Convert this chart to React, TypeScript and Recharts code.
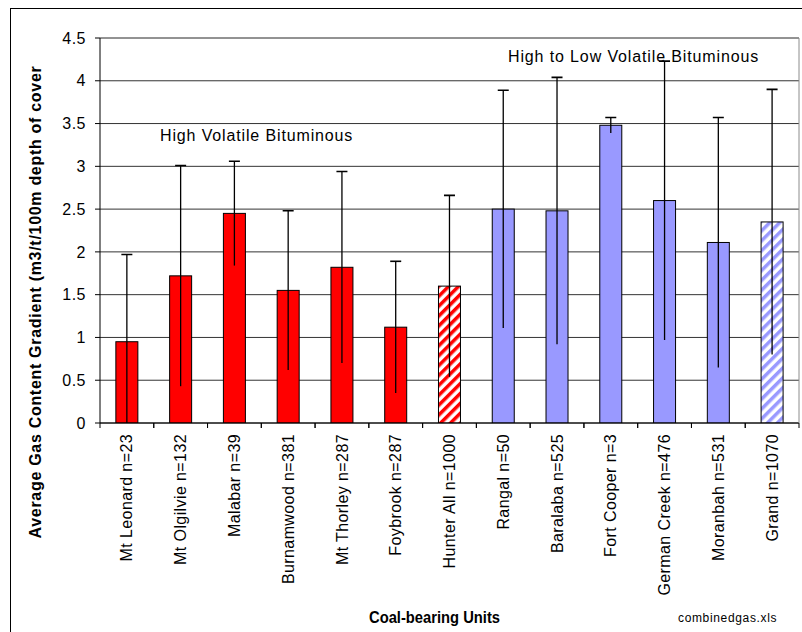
import { BarChart, Bar, XAxis, YAxis, CartesianGrid, ReferenceLine } from "recharts";

// coal-bearing units (label includes sample count)
const units = [
  "Mt Leonard n=23",
  "Mt Olgilvie n=132",
  "Malabar n=39",
  "Burnamwood n=381",
  "Mt Thorley n=287",
  "Foybrook n=287",
  "Hunter All n=1000",
  "Rangal n=50",
  "Baralaba n=525",
  "Fort Cooper n=3",
  "German Creek n=476",
  "Moranbah n=531",
  "Grand n=1070",
];

// average gas content gradient, m3/t per 100m of cover
const gradient = [0.95, 1.72, 2.45, 1.55, 1.82, 1.12, 1.6, 2.5, 2.48, 3.48, 2.6, 2.11, 2.35];

// +/- spread shown by the whiskers
const spread = [1.02, 1.29, 0.61, 0.93, 1.12, 0.77, 1.06, 1.39, 1.56, 0.09, 1.63, 1.46, 1.55];

const basin = [
  "Hunter", "Hunter", "Hunter", "Hunter", "Hunter", "Hunter", "Hunter",
  "Bowen", "Bowen", "Bowen", "Bowen", "Bowen", "Bowen",
];

// combined (all units) bars are hatched
const pooled = [false, false, false, false, false, false, true, false, false, false, false, false, true];

const yTicks = [0, 0.5, 1, 1.5, 2, 2.5, 3, 3.5, 4, 4.5];

const rows = units.map((unit, i) => ({
  unit,
  gradient: gradient[i],
  spread: spread[i],
  basin: basin[i],
  pooled: pooled[i],
}));

const FONT = "'Liberation Sans', Arial, Helvetica, sans-serif";
const RED = "#FF0000";
const BLUE = "#9999FF";

function barFill(row: { basin: string; pooled: boolean }) {
  if (row.basin === "Hunter") return row.pooled ? "url(#hatch-red)" : RED;
  return row.pooled ? "url(#hatch-blue)" : BLUE;
}

// bar body plus whisker; whisker ends are placed with the bar's own px-per-unit
function BarWithWhisker(props: any) {
  const { x, y, width, height, payload } = props;
  if (!payload || !height) return null;
  const k = height / payload.gradient;
  const base = y + height;
  const hiY = base - (payload.gradient + payload.spread) * k;
  const loY = base - Math.max(0, payload.gradient - payload.spread) * k;
  const cx = x + width / 2;
  return (
    <g>
      <rect x={x} y={y} width={width} height={height} fill={barFill(payload)} stroke="#000" strokeWidth={1} />
      <line x1={cx} x2={cx} y1={hiY} y2={loY} stroke="#000" strokeWidth={1.3} />
      <line x1={cx - 5.5} x2={cx + 5.5} y1={hiY} y2={hiY} stroke="#000" strokeWidth={1.6} />
    </g>
  );
}

// vertical unit names, with tick marks between categories
function UnitTick(props: any) {
  const { x, y, payload } = props;
  const half = payload?.offset ?? 0;
  return (
    <g>
      <line x1={x - half} x2={x - half} y1={y} y2={y + 5} stroke="#000" />
      <line x1={x + half} x2={x + half} y1={y} y2={y + 5} stroke="#000" />
      <text
        x={x}
        y={y + 11}
        transform={`rotate(-90, ${x}, ${y + 11})`}
        textAnchor="end"
        dy="0.35em"
        fontSize={16}
        fill="#000"
        style={{ letterSpacing: "0.4px", fontFamily: FONT }}
      >
        {payload.value}
      </text>
    </g>
  );
}

export default function App() {
  return (
    <div style={{ position: "absolute", left: 0, top: 0, width: 802, height: 632, background: "#fff", fontFamily: FONT }}>
      <svg width={0} height={0} style={{ position: "absolute" }}>
        <defs>
          <pattern id="hatch-red" width="7" height="7" patternUnits="userSpaceOnUse" patternTransform="rotate(45)">
            <rect width="7" height="7" fill="#fff" />
            <rect width="3.5" height="7" fill={RED} />
          </pattern>
          <pattern id="hatch-blue" width="7" height="7" patternUnits="userSpaceOnUse" patternTransform="rotate(45)">
            <rect width="7" height="7" fill="#fff" />
            <rect width="3.5" height="7" fill={BLUE} />
          </pattern>
        </defs>
      </svg>

      <BarChart
        width={802}
        height={632}
        data={rows}
        margin={{ top: 38, right: 2, bottom: 0, left: 0 }}
        barCategoryGap="29.5%"
        style={{ fontFamily: FONT }}
      >
        <CartesianGrid vertical={false} stroke="#333" strokeWidth={1} />
        <XAxis
          dataKey="unit"
          height={209}
          interval={0}
          tickLine={false}
          tickSize={0}
          tickMargin={0}
          axisLine={{ stroke: "#000" }}
          tick={<UnitTick />}
        />
        <YAxis
          width={100}
          domain={[0, 4.5]}
          ticks={yTicks}
          allowDataOverflow
          tickSize={5}
          tickMargin={9}
          axisLine={{ stroke: "#000" }}
          tickLine={{ stroke: "#000" }}
          tick={{ fontSize: 16, fill: "#000", style: { letterSpacing: "0.5px" } }}
          tickFormatter={(v: number) => String(v)}
        />
        <YAxis
          yAxisId="frame"
          orientation="right"
          width={1}
          domain={[0, 4.5]}
          tick={false}
          tickLine={false}
          axisLine={{ stroke: "#8c8c8c" }}
        />
        <ReferenceLine y={4.5} stroke="#8c8c8c" />
        <Bar dataKey="gradient" isAnimationActive={false} shape={<BarWithWhisker />} />
      </BarChart>

      <svg
        width={802}
        height={632}
        style={{ position: "absolute", left: 0, top: 0, pointerEvents: "none", fontFamily: FONT }}
      >
        <rect x={10.5} y={8.5} width={900} height={700} fill="none" stroke="#000" strokeWidth={1} />
        <text
          x={35}
          y={302}
          transform="rotate(-90, 35, 302)"
          textAnchor="middle"
          dominantBaseline="central"
          fontSize={16}
          fontWeight="bold"
          style={{ letterSpacing: "0.7px" }}
        >
          Average Gas Content Gradient (m3/t/100m depth of cover
        </text>
        <text x={160} y={141} fontSize={16} style={{ letterSpacing: "0.86px" }}>
          High Volatile Bituminous
        </text>
        <text x={508} y={62} fontSize={16} style={{ letterSpacing: "0.87px" }}>
          High to Low Volatile Bituminous
        </text>
        <text x={369} y={623} fontSize={17} fontWeight="bold" textLength={131} lengthAdjust="spacingAndGlyphs">
          Coal-bearing Units
        </text>
        <text x={678} y={622} fontSize={12} style={{ letterSpacing: "0.65px" }}>
          combinedgas.xls
        </text>
      </svg>
    </div>
  );
}
